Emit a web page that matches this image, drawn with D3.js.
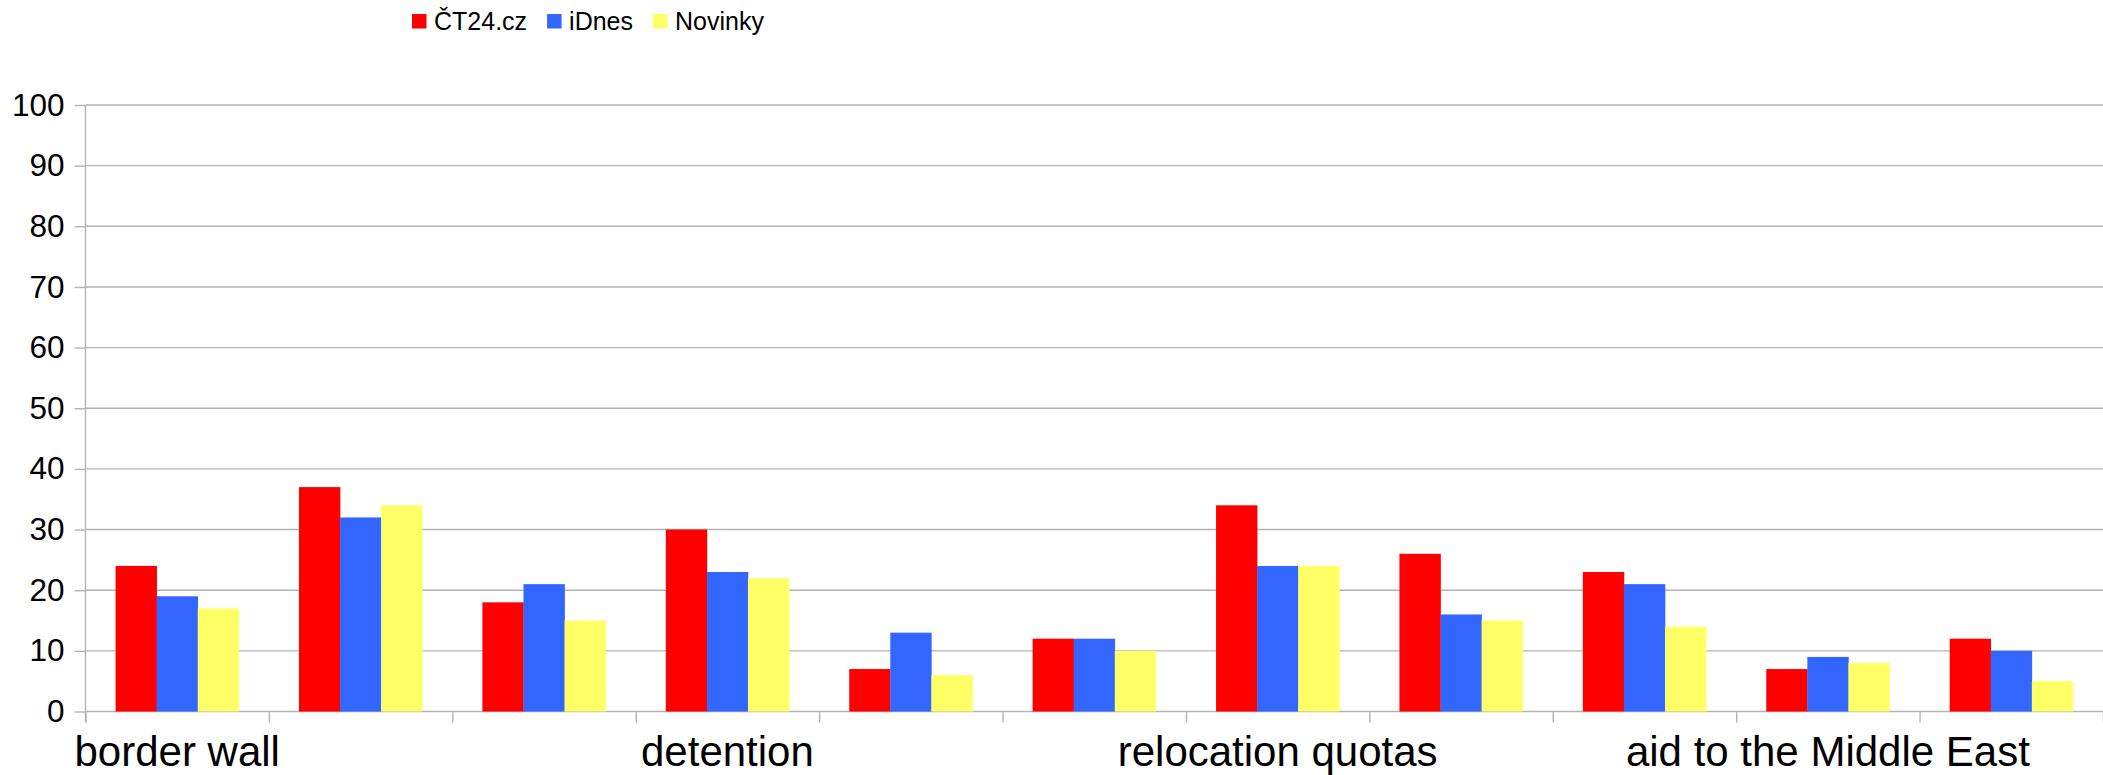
<!DOCTYPE html>
<html><head><meta charset="utf-8">
<script src="https://cdn.jsdelivr.net/npm/d3@7"></script>
<style>body{margin:0;background:#fff} svg{display:block}</style>
</head><body><svg id="c" width="2103" height="775"></svg>
<script>
// ---- data ----
const categories = ["border wall", "", "", "detention", "", "", "relocation quotas", "", "", "aid to the Middle East", ""];
const seriesNames = ["ČT24.cz", "iDnes", "Novinky"];
const ct24 =    [24, 37, 18, 30, 7, 12, 34, 26, 23, 7, 12];
const idnes =   [19, 32, 21, 23, 13, 12, 24, 16, 21, 9, 10];
const novinky = [17, 34, 15, 22, 6, 10, 24, 15, 14, 8, 5];
const yTicks = [0, 10, 20, 30, 40, 50, 60, 70, 80, 90, 100];
const colors = ["#ff0000", "#3366ff", "#ffff66"];

(function () {
const seriesValues = [ct24, idnes, novinky];
const svg = d3.select("#c");
const pLeft = 85.5, pRight = 2103, pTop = 105, pBottom = 711.5;
const gridColor = "#b3b3b3";
const font = "Liberation Sans, Arial, sans-serif";

const y = d3.scaleLinear().domain([0, 100]).range([pBottom, pTop]);
const x = d3.scaleBand().domain(d3.range(categories.length)).range([pLeft, pRight]).padding(0);
const bw = x.bandwidth();
const inner = d3.scaleBand().domain(d3.range(seriesNames.length)).range([bw * 0.164, bw * 0.836]).padding(0);
const xb = d3.scaleLinear().domain([0, categories.length]).range([pLeft, pRight]);

// gridlines
svg.append("g").selectAll("line").data(yTicks).join("line")
  .attr("x1", pLeft).attr("x2", pRight)
  .attr("y1", d => y(d)).attr("y2", d => y(d))
  .attr("stroke", gridColor).attr("stroke-width", 1.4);

// bars
const groups = svg.append("g").selectAll("g").data(categories).join("g")
  .attr("transform", (d, i) => `translate(${x(i)},0)`);
groups.selectAll("rect").data((d, i) => seriesValues.map((s, k) => ({k, v: s[i]}))).join("rect")
  .attr("x", d => inner(d.k)).attr("width", inner.bandwidth() + 0.3)
  .attr("y", d => y(d.v)).attr("height", d => y(0) - y(d.v))
  .attr("fill", d => colors[d.k]);

// y axis
const yAxis = svg.append("g").attr("transform", `translate(${pLeft},0)`)
  .call(d3.axisLeft(y).tickValues(yTicks).tickSize(11).tickPadding(10));
yAxis.select(".domain").remove();
yAxis.selectAll(".tick line").attr("stroke", gridColor).attr("stroke-width", 1.4);
yAxis.selectAll(".tick text").attr("font-family", font)
  .attr("font-size", 31.5).attr("fill", "#000");
svg.append("line").attr("x1", pLeft).attr("x2", pLeft).attr("y1", pTop).attr("y2", pBottom + 11)
  .attr("stroke", gridColor).attr("stroke-width", 1.4);

// x axis boundary ticks
const xAxis = svg.append("g").attr("transform", `translate(0,${pBottom})`)
  .call(d3.axisBottom(xb).tickValues(d3.range(categories.length + 1)).tickSize(11).tickFormat(""));
xAxis.select(".domain").remove();
xAxis.selectAll(".tick line").attr("stroke", gridColor).attr("stroke-width", 1.4);

// category labels
svg.append("g").selectAll("text").data(categories).join("text")
  .attr("x", (d, i) => x(i) + bw / 2).attr("y", 765.5)
  .attr("text-anchor", "middle")
  .attr("font-family", font)
  .attr("font-size", 42).attr("fill", "#000")
  .text(d => d);

// legend
const lg = svg.append("g");
let cx = 412;
seriesNames.forEach((name, i) => {
  lg.append("rect").attr("x", cx).attr("y", 14).attr("width", 14.5).attr("height", 14.5)
    .attr("fill", colors[i]);
  const t = lg.append("text").attr("x", cx + 22).attr("y", 29.5)
    .attr("font-family", font).attr("font-size", 25).attr("fill", "#000").text(name);
  cx = cx + 22 + t.node().getComputedTextLength() + 20;
});
})();
</script>
</body></html>
